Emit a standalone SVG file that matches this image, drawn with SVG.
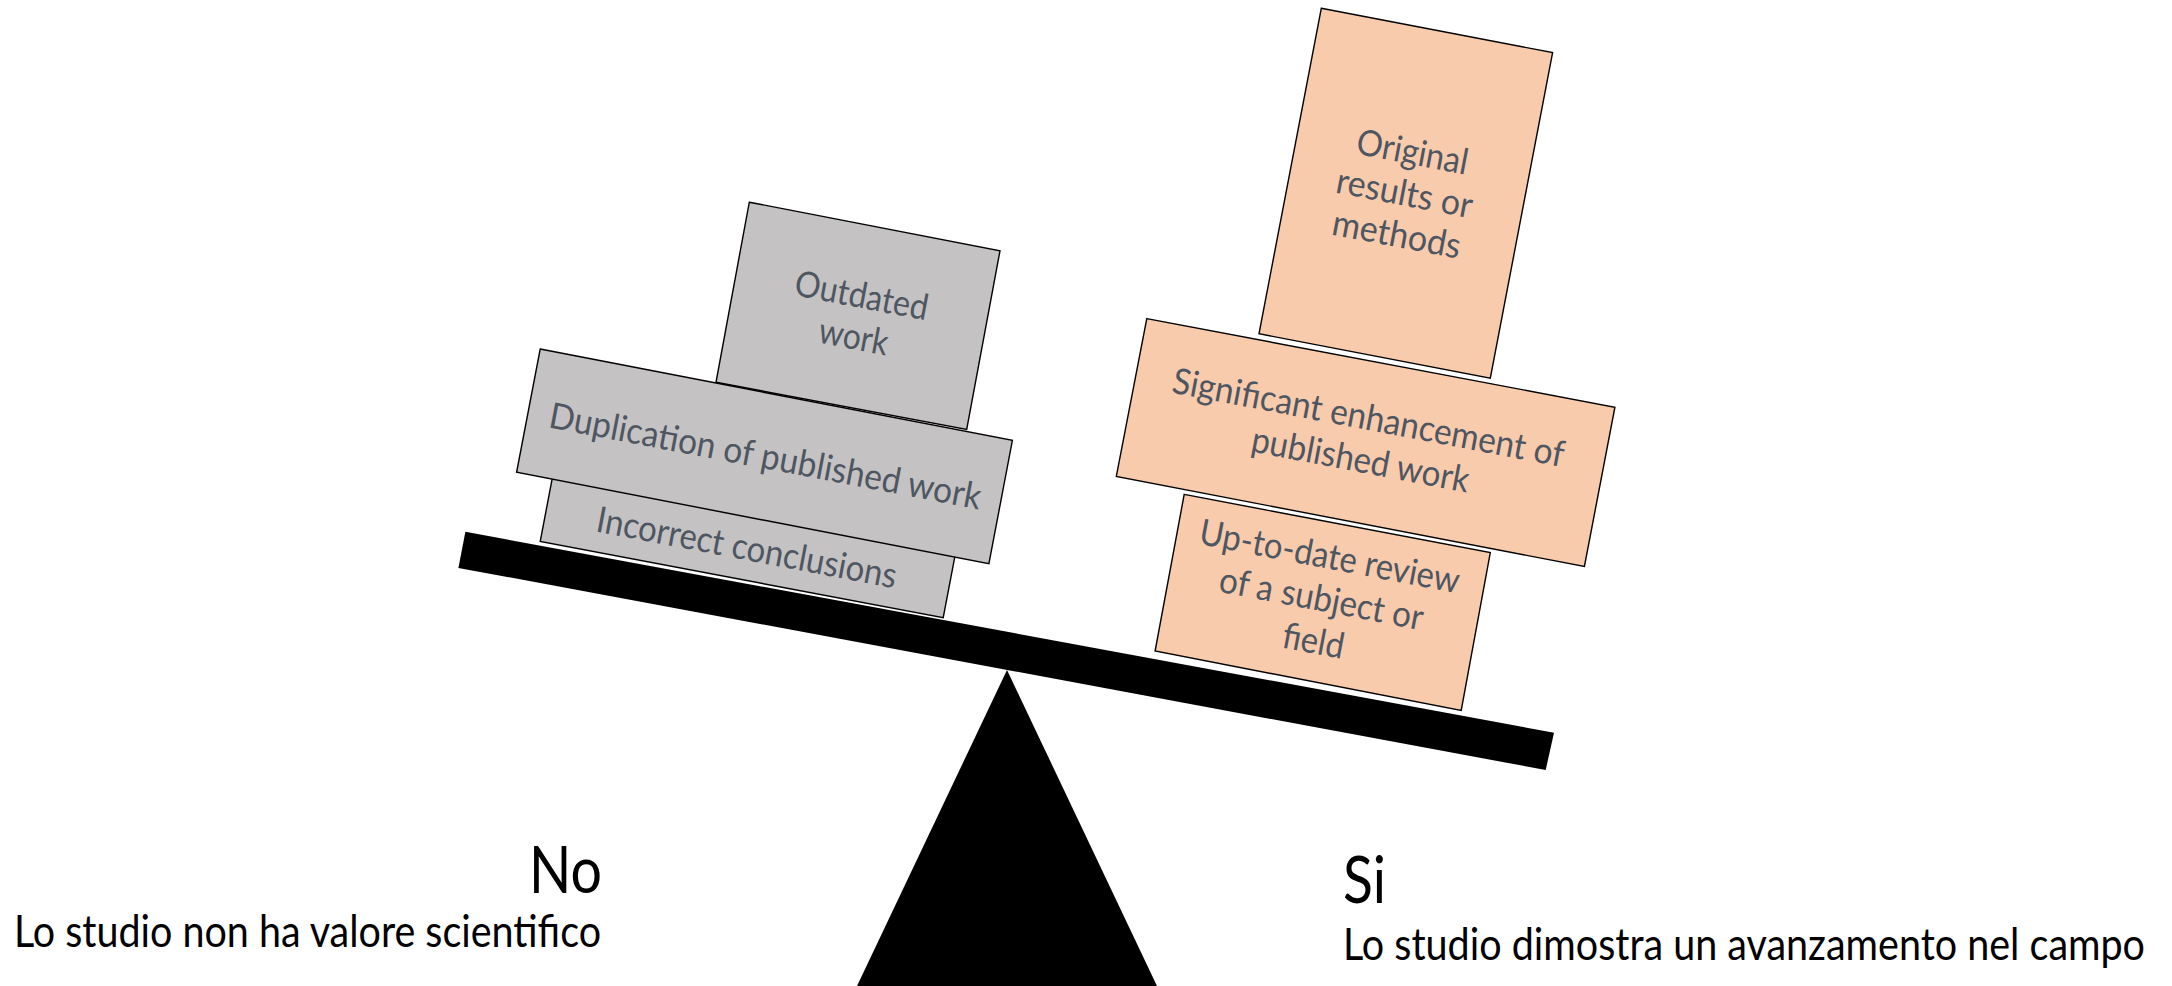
<svg xmlns="http://www.w3.org/2000/svg" width="2172" height="986" viewBox="0 0 2172 986">
<style>
.gray{fill:#C4C2C3;stroke:#000;stroke-width:1.4}
.orange{fill:#F8CBAD;stroke:#000;stroke-width:1.4}
.bt{font-family:Lato,"Liberation Sans",sans-serif;font-size:36px;fill:#4E5661;text-anchor:middle}
.lbl{font-family:Lato,"Liberation Sans",sans-serif;fill:#000}
</style>
<rect width="2172" height="986" fill="#fff"/>
<g id="scale">
<polygon id="fulcrum" points="1007,670 857,986 1157,986" fill="#000"/>
<polygon id="beam" points="465.4,531.8 1554,732.7 1545.7,770 458.4,567.9" fill="#000"/>
</g>
<g id="incorrect">
<polygon class="gray" points="555.2,462.9 958.2,539.1 943.2,617.7 540.2,541.5"/>
<text class="bt" transform="translate(746.5,549) rotate(10.8)" y="11" textLength="305" lengthAdjust="spacingAndGlyphs">Incorrect conclusions</text>
</g>
<g id="duplication">
<polygon class="gray" points="540.2,349 1012.4,440.4 988.9,563.7 516.6,472.3"/>
<text class="bt" transform="translate(765.2,457.5) rotate(10.8)" y="11" textLength="439" lengthAdjust="spacingAndGlyphs">Duplication  of published work</text>
</g>
<g id="outdated">
<polygon class="gray" points="749.3,202.2 1000,250.7 966.7,429.4 716,382.3"/>
<text class="bt" transform="translate(857.4,317.5) rotate(10.8)"><tspan x="0" y="-10" textLength="135" lengthAdjust="spacingAndGlyphs">Outdated</tspan><tspan x="0" y="32" textLength="70" lengthAdjust="spacingAndGlyphs">work</tspan></text>
</g>
<g id="uptodate">
<polygon class="orange" points="1184.2,494.4 1490.3,552.6 1461.2,710.5 1155.1,651"/>
<text class="bt" transform="translate(1321.3,600) rotate(10.8)"><tspan x="0" y="-32" textLength="264" lengthAdjust="spacingAndGlyphs">Up-to-date review</tspan><tspan x="0" y="11" textLength="207" lengthAdjust="spacingAndGlyphs">of a subject or</tspan><tspan x="0" y="54" textLength="62" lengthAdjust="spacingAndGlyphs">field</tspan></text>
</g>
<g id="significant">
<polygon class="orange" points="1146.8,318.6 1614.9,407.2 1584.4,566.5 1116.3,476.4"/>
<text class="bt" transform="translate(1364.2,440.5) rotate(10.8)"><tspan x="0" y="-11" textLength="398" lengthAdjust="spacingAndGlyphs">Significant enhancement of</tspan><tspan x="0" y="32" textLength="221" lengthAdjust="spacingAndGlyphs">published work</tspan></text>
</g>
<g id="original">
<polygon class="orange" points="1321.3,8.3 1552.6,52.6 1490.3,378.1 1259,333.8"/>
<text class="bt" transform="translate(1404.4,194.5) rotate(10.8)"><tspan x="0" y="-31" textLength="113" lengthAdjust="spacingAndGlyphs">Original</tspan><tspan x="0" y="11" textLength="138" lengthAdjust="spacingAndGlyphs">results or</tspan><tspan x="0" y="53" textLength="130" lengthAdjust="spacingAndGlyphs">methods</tspan></text>
</g>
<g id="labels">
<text class="lbl" x="529" y="893" font-size="66" textLength="73" lengthAdjust="spacingAndGlyphs">No</text>
<text class="lbl" x="14" y="947" font-size="44" textLength="587" lengthAdjust="spacingAndGlyphs">Lo studio non ha valore scientifico</text>
<text class="lbl" x="1343" y="903" font-size="66" textLength="43" lengthAdjust="spacingAndGlyphs">Si</text>
<text class="lbl" x="1343" y="960" font-size="44" textLength="802" lengthAdjust="spacingAndGlyphs">Lo studio dimostra un avanzamento nel campo</text>
</g>
</svg>
